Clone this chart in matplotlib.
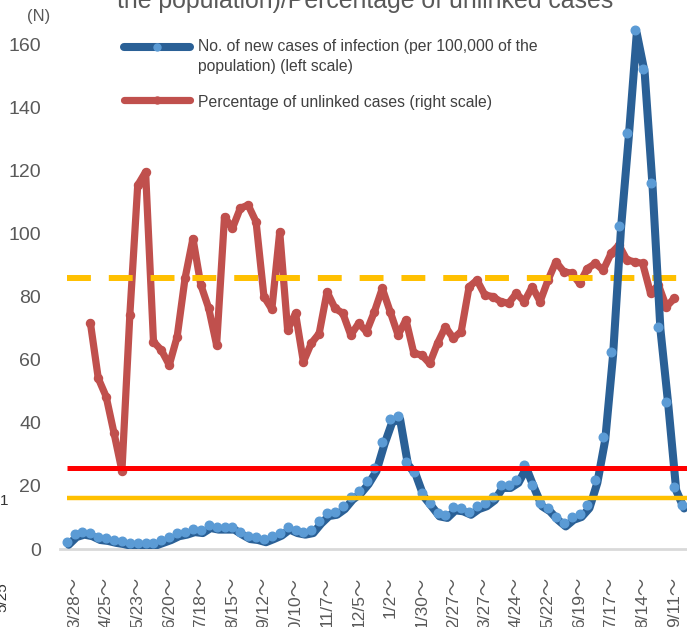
import matplotlib
matplotlib.use('Agg')
import matplotlib.pyplot as plt
import matplotlib.transforms as mtransforms
from matplotlib.lines import Line2D
from matplotlib import font_manager

# ---------------- data ----------------
# weekly data, week index 0 = week of 3/21 (2020)
weeks = list(range(79))
new_cases = [2.3, 4.75, 5.5, 5.0, 3.8, 3.5, 2.9, 2.5, 1.9, 2.0,
             1.9, 2.0, 2.9, 3.8, 5.0, 5.5, 6.3, 6.0, 7.6, 7.1,
             7.1, 7.1, 5.5, 4.1, 3.8, 3.1, 4.1, 5.2, 7.1, 6.0,
             5.5, 6.0, 9.0, 11.4, 11.8, 13.6, 16.6, 18.5, 21.5, 25.6,
             34.0, 41.1, 42.1, 27.7, 24.5, 17.6, 14.5, 11.3, 10.8, 13.2,
             12.9, 11.8, 13.6, 14.5, 16.4, 20.3, 20.3, 21.9, 26.6, 20.3,
             14.5, 12.9, 10.2, 8.1, 10.2, 11.1, 13.9, 21.9, 35.5, 62.5,
             102.5, 132.0, 164.4, 152.0, 116.0, 70.5, 46.5, 19.5, 13.8]

unlinked_weeks = list(range(3, 78))
unlinked_pct = [71.7, 54.1, 48.3, 36.7, 24.8, 74.1, 115.3, 119.5, 65.7, 63.0,
                58.3, 67.3, 85.8, 98.4, 83.7, 76.3, 64.6, 105.3, 101.6, 108.0,
                109.0, 103.7, 80.0, 76.0, 100.5, 69.4, 74.7, 59.3, 65.2, 68.3,
                81.5, 76.3, 74.7, 67.8, 71.5, 68.9, 75.2, 82.6, 75.2, 67.8,
                72.6, 62.0, 61.5, 58.8, 65.2, 70.4, 66.8, 68.9, 83.1, 85.2,
                80.5, 80.0, 78.4, 77.9, 81.0, 78.4, 83.1, 78.4, 85.2, 91.0,
                87.9, 87.4, 84.2, 88.9, 90.5, 88.4, 93.7, 96.3, 91.6, 91.0,
                90.5, 81.0, 83.7, 76.8, 79.4]

red_level = 25.6
orange_level = 16.3
dashed_level = 85.8

tick_weeks = [1, 5, 9, 13, 17, 21, 25, 29, 33, 37, 41, 45, 49, 53, 57, 61, 65, 69, 73, 77]
tick_labels = ["3/28～", "4/25～", "5/23～", "6/20～", "7/18～", "8/15～", "9/12～",
               "10/10～", "11/7～", "12/5～", "1/2～", "1/30～", "2/27～", "3/27～",
               "4/24～", "5/22～", "6/19～", "7/17～", "8/14～", "9/11～"]
y_ticks = [0, 20, 40, 60, 80, 100, 120, 140, 160]

# ---------------- figure ----------------
W, H = 687, 627
fig = plt.figure(figsize=(W / 100, H / 100), dpi=100)

available = {f.name for f in font_manager.fontManager.ttflist}
has_narrow = 'Liberation Sans Narrow' in available
narrow = ['Liberation Sans Narrow', 'Liberation Sans', 'Noto Sans CJK JP', 'DejaVu Sans']
regular = ['Liberation Sans', 'DejaVu Sans']
ytick_size = 15 if has_narrow else 14
xtick_size = 13.5 if has_narrow else 12.5
GRAY = '#595959'


def fx(x):
    return x / W


def fy(y):
    return 1 - y / H


ax_left, ax_bottom = 60, 549
ax = fig.add_axes([fx(ax_left), fy(ax_bottom), (W - ax_left) / W, ax_bottom / H])
ax2 = ax.twinx()
ax.set_zorder(ax2.get_zorder() + 1)
ax.patch.set_visible(False)

xmin, xmax = -0.85, 78.62
ymin, ymax = 0, 174
for a in (ax, ax2):
    a.set_xlim(xmin, xmax)
    a.set_ylim(ymin, ymax)
    for s in a.spines.values():
        s.set_visible(False)
ax2.set_yticks([])

ax.spines['bottom'].set_visible(True)
ax.spines['bottom'].set_color('#D9D9D9')
ax.spines['bottom'].set_linewidth(2)

# red series (right scale)
ax2.plot(unlinked_weeks, unlinked_pct, color='#C0504D', lw=5.2,
         solid_joinstyle='round', solid_capstyle='round',
         marker='o', ms=5.8, zorder=3)

# dashed reference
ax.hlines(dashed_level, weeks[0], xmax, colors='#FFC000', lw=4.3,
          linestyles=(0, (4, 3)), zorder=2, capstyle='butt')

# blue series (left scale) with shadowed line
offset = mtransforms.offset_copy(ax.transData, fig=fig, x=2, y=-3, units='dots')
ax.plot(weeks, new_cases, color='#2A6096', lw=5.8, solid_joinstyle='round',
        solid_capstyle='round', transform=offset, zorder=3)
ax.plot(weeks, new_cases, ls='none', marker='o', ms=6.2, color='#5B9BD5',
        mec='#5B9BD5', zorder=4)

# solid reference lines
ax.hlines(red_level, weeks[0], xmax, colors='#FF0000', lw=3.6, zorder=5)
ax.hlines(orange_level, weeks[0], xmax, colors='#FFC000', lw=3.2, zorder=5)

# ticks
ax.set_yticks(y_ticks)
ax.set_yticklabels([str(v) for v in y_ticks], family=narrow, fontsize=ytick_size, color=GRAY)
ax.tick_params(axis='y', length=0, pad=13.5)
ax.set_xticks(tick_weeks)
ax.set_xticklabels(tick_labels, rotation=90, family=narrow, fontsize=xtick_size,
                   color=GRAY, va='top', ha='center')
ax.tick_params(axis='x', length=0, pad=20)

# unit label
fig.text(fx(39), fy(16), '(N)', family=narrow, fontsize=12, color=GRAY,
         ha='center', va='center')

# title (partly cut at the top)
title = fig.text(fx(117), fy(8), 'the population)/Percentage of unlinked cases',
                 family=regular, fontsize=17, color=GRAY, ha='left', va='baseline')
fig.canvas.draw()
bb = title.get_window_extent()
title.set_fontsize(17 * 500 / bb.width)

# manual legend
fig.add_artist(Line2D([fx(124), fx(190)], [fy(47), fy(47)], color='#2A6096', lw=5.8,
                      solid_capstyle='round'))
fig.add_artist(Line2D([fx(157)], [fy(47)], ls='none', marker='o', ms=5, color='#5B9BD5'))
fig.add_artist(Line2D([fx(124), fx(190)], [fy(100), fy(100)], color='#C0504D', lw=5.2,
                      solid_capstyle='round'))
fig.add_artist(Line2D([fx(157)], [fy(100)], ls='none', marker='o', ms=5, color='#C0504D'))
legend_size = 11.3
fig.text(fx(198), fy(46), 'No. of new cases of infection (per 100,000 of the',
         family=regular, fontsize=legend_size, color='#404040', ha='left', va='center')
fig.text(fx(198), fy(66), 'population) (left scale)',
         family=regular, fontsize=legend_size, color='#404040', ha='left', va='center')
fig.text(fx(198), fy(102), 'Percentage of unlinked cases (right scale)',
         family=regular, fontsize=legend_size, color='#404040', ha='left', va='center')

# fragments of the neighbouring chart at the left edge
fig.text(fx(0), fy(501), '1', family=regular, fontsize=11, color='#333333',
         ha='left', va='center')
fig.text(fx(2), fy(582), '5/25', family=regular, fontsize=11, color='#333333',
         rotation=90, ha='center', va='top')

fig.savefig('out.png', dpi=100)
